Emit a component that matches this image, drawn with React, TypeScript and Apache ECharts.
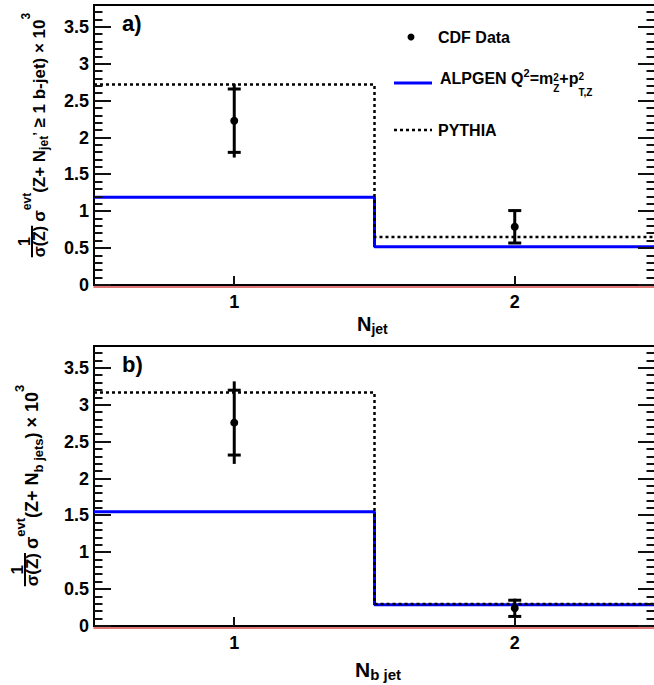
import { useEffect, useRef } from 'react';
import * as echarts from 'echarts';

const FONT = 'Liberation Sans, Arial, Helvetica, sans-serif';

// ---- data ----
const binEdges = [0.5, 1.5, 2.5];
const xTicks = [1, 2];
const yTicks = [0, 0.5, 1, 1.5, 2, 2.5, 3, 3.5];
const yMin = 0;
const yMax = 3.8;
const yMinorStep = 0.1;
const cdfX = [1, 2];

// panel a) : N_jet with >= 1 b-jet
const alpgenJet = [1.19, 0.52];
const pythiaJet = [2.72, 0.65];
const cdfJet = [2.23, 0.79];
const cdfJetStat = [0.43, 0.22];
const cdfJetTot = [0.5, 0.22];

// panel b) : N_b jet
const alpgenB = [1.55, 0.29];
const pythiaB = [3.17, 0.3];
const cdfB = [2.76, 0.24];
const cdfBStat = [0.44, 0.11];
const cdfBTot = [0.56, 0.13];

// minor tick positions of the y axis (axis decoration)
const yMinorTicks: number[] = [];
for (let i = 1; i * yMinorStep < yMax - 1e-9; i++) yMinorTicks.push(Math.round(i * yMinorStep * 10) / 10);

const xMin = binEdges[0];
const xMax = binEdges[binEdges.length - 1];

// ---- text helpers ----
let mctx: CanvasRenderingContext2D | null = null;
function tw(text: string, size: number): number {
  if (!mctx) mctx = document.createElement('canvas').getContext('2d');
  if (!mctx) return text.length * size * 0.6;
  mctx.font = `bold ${size}px ${FONT}`;
  return mctx.measureText(text).width;
}

function txt(x: number, y: number, text: string, size: number, align = 'left') {
  return {
    type: 'text',
    x,
    y,
    style: {
      text,
      fontSize: size,
      fontWeight: 'bold',
      fontFamily: FONT,
      fill: '#000',
      align,
      verticalAlign: 'middle',
      textAlign: align,
      textVerticalAlign: 'middle',
    },
  };
}

type Tok = { t: string; s: number; dy?: number; stack?: boolean; gap?: number };

function buildLine(toks: Tok[]) {
  const children: any[] = [];
  let x = 0;
  let prevStart = 0;
  let prevEnd = 0;
  for (const k of toks) {
    const w = tw(k.t, k.s);
    const start = k.stack ? prevStart : x + (k.gap || 0);
    children.push(txt(start, k.dy || 0, k.t, k.s));
    const end = start + w;
    if (k.stack) {
      prevEnd = Math.max(prevEnd, end);
      x = prevEnd;
    } else {
      prevStart = start;
      prevEnd = end;
      x = end;
    }
  }
  return { children, width: x };
}

function yTitle(toks: Tok[], cx: number, cy: number, fs: number) {
  const denW = tw('σ(Z)', fs);
  const frac: any[] = [
    txt(denW / 2, -14.5, '1', fs, 'center'),
    { type: 'line', shape: { x1: 0, y1: -7, x2: denW, y2: -7 }, style: { stroke: '#000', lineWidth: 2 } },
    txt(0, 0, 'σ(Z)', fs),
  ];
  const line = buildLine(toks);
  const gap = 4;
  line.children.forEach((c: any) => {
    c.x += denW + gap;
  });
  const total = denW + gap + line.width;
  return {
    type: 'group',
    x: cx,
    y: cy + total / 2,
    rotation: Math.PI / 2,
    children: [...frac, ...line.children],
  };
}

function hLine(x: number, y: number, toks: Tok[]) {
  const line = buildLine(toks);
  return { type: 'group', x, y, children: line.children };
}

// ---- option builders ----
function stepPoints(vals: number[]) {
  const pts: number[][] = [];
  vals.forEach((v, i) => {
    pts.push([binEdges[i], v]);
    pts.push([binEdges[i + 1], v]);
  });
  return pts;
}

function errData(ys: number[], stat: number[], tot: number[]) {
  return cdfX.map((x, i) => [x, ys[i], stat[i], tot[i]]);
}

const renderErr = (_params: any, api: any) => {
  const x = api.value(0);
  const y = api.value(1);
  const s = api.value(2);
  const t = api.value(3);
  const c = api.coord([x, y]);
  const sHi = api.coord([x, y + s]);
  const sLo = api.coord([x, y - s]);
  const tHi = api.coord([x, y + t]);
  const tLo = api.coord([x, y - t]);
  const cap = 6.5;
  const st = { stroke: '#000', lineWidth: 3 };
  return {
    type: 'group',
    children: [
      { type: 'line', shape: { x1: c[0], y1: tHi[1], x2: c[0], y2: tLo[1] }, style: st },
      { type: 'line', shape: { x1: c[0] - cap, y1: sHi[1], x2: c[0] + cap, y2: sHi[1] }, style: st },
      { type: 'line', shape: { x1: c[0] - cap, y1: sLo[1], x2: c[0] + cap, y2: sLo[1] }, style: st },
      { type: 'circle', shape: { cx: c[0], cy: c[1], r: 4 }, style: { fill: '#000' } },
    ],
  };
};

function xAxisCfg(gridIndex: number) {
  return {
    type: 'value',
    gridIndex,
    min: xMin,
    max: xMax,
    position: 'bottom',
    offset: 1.5,
    axisLine: { show: true, onZero: false, lineStyle: { color: '#d84a4a', width: 1.5 } },
    axisTick: { show: false },
    axisLabel: {
      show: true,
      customValues: xTicks,
      margin: 6,
      fontSize: 18,
      fontWeight: 'bold',
      fontFamily: FONT,
      color: '#000',
      formatter: (v: number) => String(v),
    },
    splitLine: { show: false },
  };
}

function yAxisCfg(gridIndex: number) {
  return {
    type: 'value',
    gridIndex,
    position: 'left',
    min: yMin,
    max: yMax,
    interval: 0.5,
    axisLine: { show: true, onZero: false, lineStyle: { color: '#000', width: 2 } },
    axisTick: { show: false },
    axisLabel: {
      show: true,
      showMaxLabel: false,
      margin: 5,
      fontSize: 18,
      fontWeight: 'bold',
      fontFamily: FONT,
      color: '#000',
      formatter: (v: number) => (yTicks.includes(Math.round(v * 100) / 100) ? String(v) : ''),
    },
    splitLine: { show: false },
  };
}

function panelSeries(gi: number, alp: number[], pyt: number[], ys: number[], stat: number[], tot: number[]) {
  return [
    {
      type: 'line',
      name: 'ALPGEN',
      xAxisIndex: gi,
      yAxisIndex: gi,
      data: stepPoints(alp),
      showSymbol: false,
      symbol: 'none',
      lineStyle: { color: '#0000ff', width: 3 },
      z: 2,
      silent: true,
    },
    {
      type: 'line',
      name: 'PYTHIA',
      xAxisIndex: gi,
      yAxisIndex: gi,
      data: stepPoints(pyt),
      showSymbol: false,
      symbol: 'none',
      lineStyle: { color: '#000', width: 2.5, type: [3, 3] },
      z: 3,
      silent: true,
    },
    {
      type: 'custom',
      name: 'CDF Data',
      xAxisIndex: gi,
      yAxisIndex: gi,
      data: errData(ys, stat, tot),
      renderItem: renderErr,
      z: 4,
      silent: true,
    },
  ];
}

function staticGraphic(): any[] {
  const topTitle: Tok[] = [
    { t: 'σ', s: 17 },
    { t: 'evt', s: 12, dy: -12 },
    { t: '(Z+ N', s: 17 },
    { t: 'jet', s: 12, dy: 5 },
    { t: ',', s: 13, dy: -9 },
    { t: ' ≥ 1 b-jet) × 10', s: 17 },
    { t: '3', s: 12, dy: -13 },
  ];
  const botTitle: Tok[] = [
    { t: 'σ', s: 18 },
    { t: 'evt', s: 13, dy: -12 },
    { t: '(Z+ N', s: 18 },
    { t: 'b jets', s: 13, dy: 6 },
    { t: ') × 10', s: 18 },
    { t: '3', s: 13, dy: -13 },
  ];
  return [
    yTitle(topTitle, 39, 135, 16),
    yTitle(botTitle, 32, 485.5, 17),
    hLine(357, 323.5, [
      { t: 'N', s: 20 },
      { t: 'jet', s: 14, dy: 5 },
    ]),
    hLine(355, 669, [
      { t: 'N', s: 21 },
      { t: 'b jet', s: 15, dy: 5 },
    ]),
    txt(122, 23, 'a)', 22),
    txt(122, 364, 'b)', 22),
    { type: 'circle', shape: { cx: 411, cy: 37, r: 3.5 }, style: { fill: '#000' } },
    txt(438, 37, 'CDF Data', 16),
    {
      type: 'line',
      shape: { x1: 394, y1: 83, x2: 432, y2: 83 },
      style: { stroke: '#0000ff', lineWidth: 3 },
    },
    hLine(440, 78.5, [
      { t: 'ALPGEN Q', s: 16 },
      { t: '2', s: 11, dy: -5.5 },
      { t: '=m', s: 16 },
      { t: '2', s: 10, dy: -1.5 },
      { t: 'Z', s: 10, dy: 10, stack: true },
      { t: '+p', s: 16 },
      { t: '2', s: 10, dy: -2 },
      { t: 'T,Z', s: 10, dy: 13.5, stack: true },
    ]),
    {
      type: 'line',
      shape: { x1: 394, y1: 130, x2: 432, y2: 130 },
      style: { stroke: '#000', lineWidth: 2.5, lineDash: [3, 3] },
    },
    txt(438, 130, 'PYTHIA', 16),
  ];
}

// axis tick marks placed through the chart's own axis scales
function tickGraphic(chart: echarts.ECharts): any[] {
  const els: any[] = [];
  const seg = (x1: number, y1: number, x2: number, y2: number) =>
    els.push({
      type: 'line',
      z: 10,
      silent: true,
      shape: { x1, y1, x2, y2 },
      style: { stroke: '#111', lineWidth: 2 },
    });
  [0, 1].forEach((gi) => {
    const px = (x: number, y: number) => chart.convertToPixel({ gridIndex: gi } as any, [x, y]) as number[];
    const yTick = (v: number, len: number) => {
      const l = px(xMin, v);
      const r = px(xMax, v);
      const y = Math.round(l[1]);
      seg(l[0], y, l[0] + len, y);
      seg(r[0], y, r[0] - len, y);
    };
    yMinorTicks.forEach((v) => yTick(v, 8.5));
    yTicks.forEach((v) => yTick(v, 17));
    xTicks.forEach((v) => {
      const p = px(v, yMin);
      const x = Math.round(p[0]);
      seg(x, p[1], x, p[1] - 9);
    });
  });
  return els;
}

function buildOption() {
  const grids = [
    { left: 94, top: 5, width: 561, height: 280 },
    { left: 94, top: 346, width: 561, height: 280 },
  ].map((g) => ({
    ...g,
    show: true,
    borderColor: '#000',
    borderWidth: 2,
    backgroundColor: 'transparent',
    containLabel: false,
    outerBoundsMode: 'none',
  }));

  return {
    animation: false,
    backgroundColor: '#fff',
    grid: grids,
    xAxis: [xAxisCfg(0), xAxisCfg(1)],
    yAxis: [yAxisCfg(0), yAxisCfg(1)],
    series: [
      ...panelSeries(0, alpgenJet, pythiaJet, cdfJet, cdfJetStat, cdfJetTot),
      ...panelSeries(1, alpgenB, pythiaB, cdfB, cdfBStat, cdfBTot),
    ],
  };
}

export default function App() {
  const ref = useRef<HTMLDivElement | null>(null);
  useEffect(() => {
    if (!ref.current) return;
    const chart = echarts.init(ref.current, undefined, { renderer: 'svg' });
    chart.setOption(buildOption() as any);
    let ticks: any[] = [];
    try {
      ticks = tickGraphic(chart);
    } catch (e) {
      ticks = [];
    }
    chart.setOption({ graphic: [...staticGraphic(), ...ticks] } as any);
    return () => {
      chart.dispose();
    };
  }, []);
  return (
    <div
      ref={ref}
      style={{ position: 'absolute', left: 0, top: 0, width: 654, height: 685, background: '#fff' }}
    />
  );
}
